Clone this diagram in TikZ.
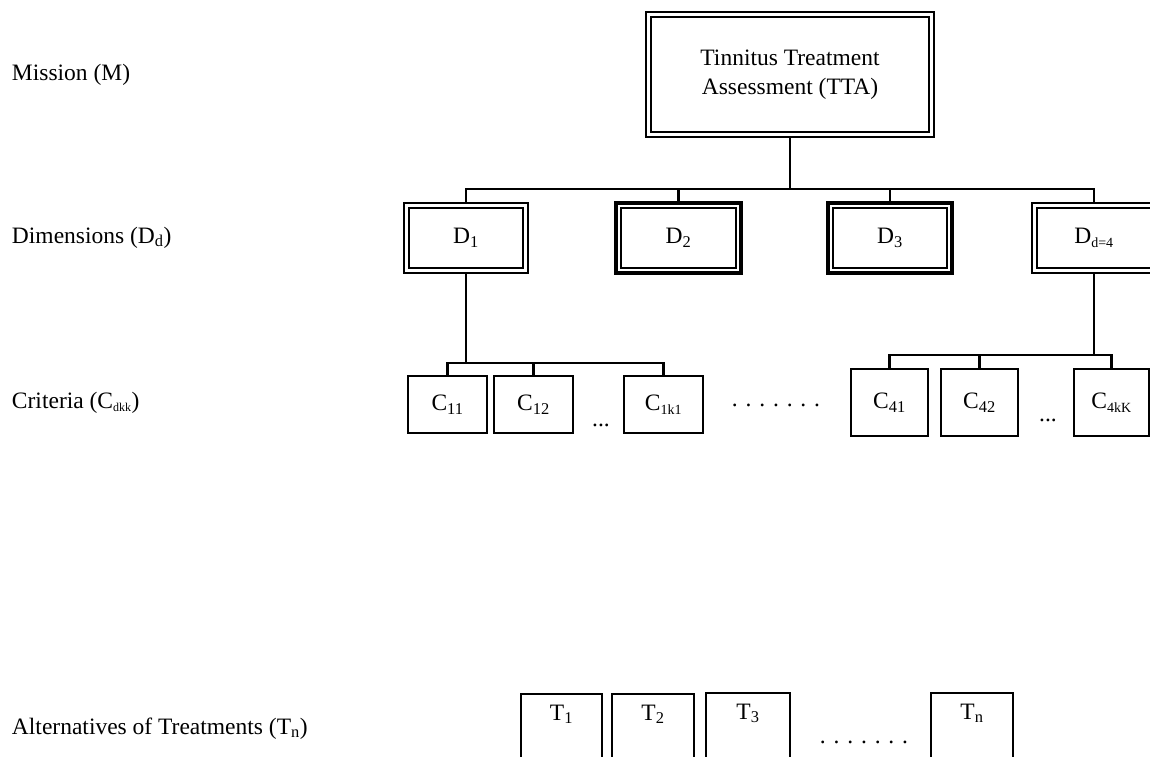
\documentclass[tikz,border=0pt]{standalone}
\usepackage{fontspec}
\setmainfont{Liberation Serif}
\begin{document}
\begin{tikzpicture}[x=1pt,y=-1pt,
  every node/.style={inner sep=0pt,outer sep=0pt,font=\fontsize{23.5}{29}\selectfont},
  lab/.style={anchor=base west},
  conn/.style={line width=2.4pt},
  dblbox/.style={draw,line width=2.4pt,align=center},
  thkbox/.style={draw,line width=3.4pt,align=center},
  cbox/.style={draw,line width=2.6pt,minimum height=57pt},
  ckbox/.style={draw,line width=2.6pt,minimum height=67pt},
  tbox/.style={draw,line width=2.6pt,anchor=north,text height=26pt,text depth=70pt},
  dots/.style={anchor=center}
]
\useasboundingbox (0,0) rectangle (1150,756);

% level labels
\node[lab] (lm) at (12,80) {Mission (M)};
\node[lab] (ld) at (12,243) {Dimensions (D\textsubscript{d})};
\node[lab] (lc) at (12,408) {Criteria (C\textsubscript{\fontsize{12}{12}\selectfont dkk})};
\node[lab] (lt) at (12,734) {Alternatives of Treatments (T\textsubscript{n})};

% mission
\node[dblbox,minimum width=288pt,minimum height=125pt] (tta) at (790,74.5)
  {Tinnitus Treatment\\Assessment (TTA)};

% dimensions
\node[dblbox,minimum width=124pt,minimum height=70pt] (d1) at (466,238) {D\textsubscript{1}};
\node[thkbox,minimum width=125pt,minimum height=70pt] (d2) at (678.5,238) {D\textsubscript{2}};
\node[thkbox,minimum width=124pt,minimum height=70pt] (d3) at (890,238) {D\textsubscript{3}};
\node[dblbox,minimum width=124pt,minimum height=70pt] (d4) at (1094,238) {D\textsubscript{\fontsize{14}{14}\selectfont d=4}};

% inner lines of the double borders
\foreach \n in {tta,d1,d2,d3,d4}
  \draw[line width=1.5pt] ([shift={(5,5)}]\n.north west) rectangle ([shift={(-5,-5)}]\n.south east);

% criteria of D1
\node[cbox,minimum width=79pt] (c11) at (447.5,404.5) {C\textsubscript{11}};
\node[cbox,minimum width=79pt] (c12) at (533.5,404.5) {C\textsubscript{12}};
\node[cbox,minimum width=79pt] (c1k) at (663.5,404.5) {C\textsubscript{\fontsize{14}{14}\selectfont 1k1}};
\node[dots] (e1) at (601,425) {...};
\node[dots] (e2) at (776,405) {. . . . . . .};

% criteria of D4
\node[ckbox,minimum width=77pt] (c41) at (889.5,402.5) {C\textsubscript{41}};
\node[ckbox,minimum width=77pt] (c42) at (979.5,402.5) {C\textsubscript{42}};
\node[ckbox,minimum width=75pt] (c4k) at (1111.5,402.5) {C\textsubscript{\fontsize{14}{14}\selectfont 4kK}};
\node[dots] (e3) at (1048,420) {...};

% alternatives
\node[tbox,minimum width=81pt] (t1) at (561.5,694) {T\textsubscript{1}};
\node[tbox,minimum width=82pt] (t2) at (653,694) {T\textsubscript{2}};
\node[tbox,minimum width=84pt] (t3) at (748,693) {T\textsubscript{3}};
\node[tbox,minimum width=82pt] (tn) at (972,693) {T\textsubscript{n}};
\node[dots] (e4) at (864,742) {. . . . . . .};

% connectors
\coordinate (b0) at (790,189);
\coordinate (b1) at (466,363);
\coordinate (b4) at (1094,355);
\foreach \n in {d1,d2,d3,d4}
  \draw[conn] (tta.south) -- (b0) -| (\n.north);
\foreach \n in {c11,c12,c1k}
  \draw[conn] (d1.south) -- (b1) -| (\n.north);
\foreach \n in {c41,c42,c4k}
  \draw[conn] (d4.south) -- (b4) -| (\n.north);
\end{tikzpicture}
\end{document}
